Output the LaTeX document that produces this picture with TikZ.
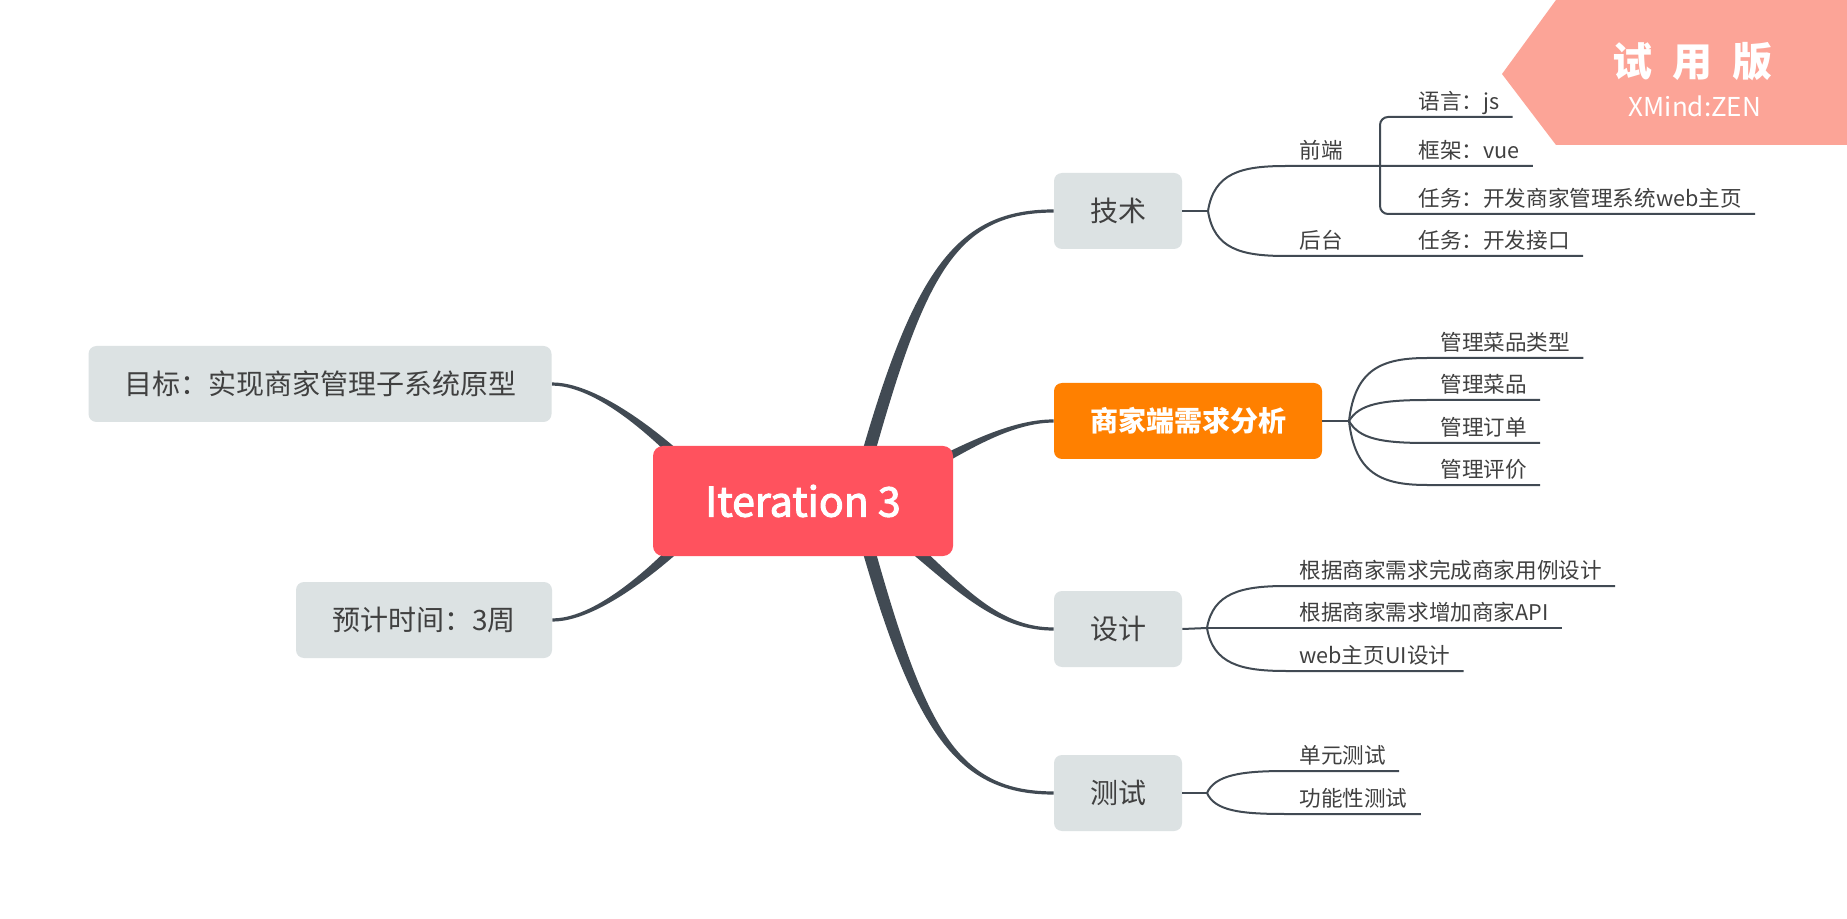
\documentclass[tikz,border=0pt]{standalone}
\usepackage{fontspec}
\setmainfont{Noto Sans CJK SC}
\newfontfamily\centralfont{Noto Sans CJK SC}[FakeBold=2.5]
\usepackage{xcolor}
\usepackage{tikz}
\definecolor{centralred}{RGB}{255,82,94}
\definecolor{topicgray}{RGB}{220,226,227}
\definecolor{accentorange}{RGB}{255,128,0}
\definecolor{linedark}{RGB}{65,74,83}
\definecolor{textgray}{RGB}{64,64,64}
\definecolor{trialpink}{RGB}{252,164,151}
\usetikzlibrary{positioning,backgrounds,calc}

% tapered main branch: start, control 1, control 2, end
\newcommand{\taperline}[4]{%
  \path ($(#1)!3.2pt!90:(#2)$) coordinate (ta) ($(#1)!3.2pt!-90:(#2)$) coordinate (tb)
        ($(#4)!0.8pt!-90:(#3)$) coordinate (tc) ($(#4)!0.8pt!90:(#3)$) coordinate (td);
  \fill[linedark] (ta) .. controls ($(#2)+(ta)-(#1)$) and ($(#3)+(tc)-(#4)$) .. (tc)
    -- (td) .. controls ($(#3)+(td)-(#4)$) and ($(#2)+(tb)-(#1)$) .. (tb) -- cycle;
}

\begin{document}
\begin{tikzpicture}[
    x=0.5pt, y=-0.5pt,
    central/.style={rectangle, fill=centralred, text=white, rounded corners=5pt, minimum width=150pt, minimum height=55pt, font=\centralfont\fontsize{20.5pt}{24pt}\selectfont},
    topic/.style={rectangle, fill=topicgray, text=textgray, rounded corners=4pt, minimum height=38pt, font=\fontsize{14pt}{17pt}\selectfont},
    focus/.style={topic, fill=accentorange, text=white, font=\bfseries\fontsize{14pt}{17pt}\selectfont},
    leaf/.style={anchor=south west, inner xsep=6.5pt, inner ysep=3.6pt, text depth=0pt, text=textgray, font=\fontsize{10.8pt}{13pt}\selectfont},
    twig/.style={draw=linedark, line width=1pt}
]
\useasboundingbox (0,0) rectangle (1847,919);

% central topic
\node[central] (iter) at (803,501) {Iteration 3};
\coordinate (iterL) at (720,501);
\coordinate (iterR) at (855,501);

% main topics
\node[topic, minimum width=231.5pt] (goal) at (320,384) {目标：实现商家管理子系统原型};
\node[topic, minimum width=128pt] (time) at (424,620) {预计时间：3周};
\node[topic, minimum width=64pt] (tech) at (1118,211) {技术};
\node[focus, minimum width=134pt] (merchant) at (1188,421) {商家端需求分析};
\node[topic, minimum width=64pt] (design) at (1118,629) {设计};
\node[topic, minimum width=64pt] (test) at (1118,793) {测试};

% tech subtopics
\node[leaf] (front) at (1286,166) {前端};
\node[leaf] (back) at (1286,256) {后台};
\node[leaf] (lang) at (1405,117) {语言：js};
\node[leaf] (frame) at (1405,166) {框架：vue};
\node[leaf] (fetask) at (1405,214) {任务：开发商家管理系统web主页};
\node[leaf] (betask) at (1405,256) {任务：开发接口};
\coordinate (techfork) at (1208,211);
\coordinate (frontfork) at (1380,166);

\draw[twig] (tech.east) -- (techfork);
\draw[twig] (techfork) .. controls +(6,-38) and +(-45,0) .. (front.south west) -- (frame.south east);
\draw[twig] (techfork) .. controls +(6,38) and +(-45,0) .. (back.south west) -- (betask.south east);
\draw[twig, rounded corners=4pt] (lang.south east) -- (lang.south west) -| (frontfork) |- (fetask.south west) -- (fetask.south east);

% merchant requirements
\node[leaf] (dishtype) at (1427,358) {管理菜品类型};
\node[leaf] (dish) at (1427,400) {管理菜品};
\node[leaf] (order) at (1427,443) {管理订单};
\node[leaf] (review) at (1427,485) {管理评价};
\coordinate (merchfork) at (1349,421);

\draw[twig] (merchant.east) -- (merchfork);
\draw[twig] (merchfork) .. controls +(6,-52) and +(-45,0) .. (dishtype.south west) -- (dishtype.south east);
\draw[twig] (merchfork) .. controls +(10,-17) and +(-45,0) .. (dish.south west) -- (dish.south east);
\draw[twig] (merchfork) .. controls +(10,18) and +(-45,0) .. (order.south west) -- (order.south east);
\draw[twig] (merchfork) .. controls +(6,53) and +(-45,0) .. (review.south west) -- (review.south east);

% design
\node[leaf] (usecase) at (1286,586) {根据商家需求完成商家用例设计};
\node[leaf] (api) at (1286,628) {根据商家需求增加商家API};
\node[leaf] (webui) at (1286,671) {web主页UI设计};
\coordinate (designfork) at (1207,628);

\draw[twig] (design.east) -- (designfork);
\draw[twig] (designfork) .. controls +(6,-35) and +(-45,0) .. (usecase.south west) -- (usecase.south east);
\draw[twig] (designfork) -- (api.south west) -- (api.south east);
\draw[twig] (designfork) .. controls +(6,36) and +(-45,0) .. (webui.south west) -- (webui.south east);

% testing
\node[leaf] (unit) at (1286,771) {单元测试};
\node[leaf] (func) at (1286,814) {功能性测试};
\coordinate (testfork) at (1207,793);

\draw[twig] (test.east) -- (testfork);
\draw[twig] (testfork) .. controls +(8,-18) and +(-45,0) .. (unit.south west) -- (unit.south east);
\draw[twig] (testfork) .. controls +(8,18) and +(-45,0) .. (func.south west) -- (func.south east);

% thick branches behind the topics
\begin{scope}[on background layer]
\fill[white] (0,0) rectangle (1847,919);
\taperline{iterL}{695,470}{610,384}{goal.east}
\taperline{iterL}{695,532}{610,620}{time.east}
\taperline{iterR}{915,280}{950,211}{tech.west}
\taperline{iterR}{920,480}{990,421}{merchant.west}
\taperline{iterR}{940,560}{980,629}{design.west}
\taperline{iterR}{915,722}{950,793}{test.west}
\end{scope}

% trial badge
\fill[trialpink] (1556,0) -- (1847,0) -- (1847,145) -- (1556,145) -- (1502,74) -- cycle;
\node[text=white, font=\bfseries\fontsize{20pt}{24pt}\selectfont] (trial) at (1692,62) {试\hspace{0.5em}用\hspace{0.5em}版};
\node[text=white, font=\fontsize{13pt}{15pt}\selectfont] (brand) at (1695,106) {XMind:ZEN};

\end{tikzpicture}
\end{document}
